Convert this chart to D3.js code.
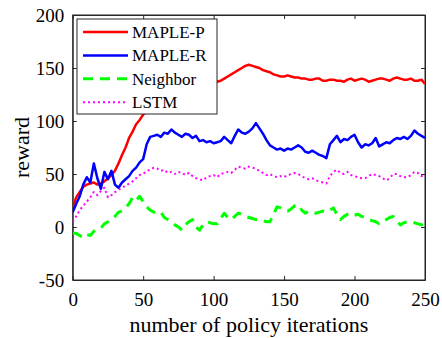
<!DOCTYPE html>
<html>
<head>
<meta charset="utf-8">
<script src="https://cdn.jsdelivr.net/npm/d3@7.9.0/dist/d3.min.js"></script>
<style>
  body { margin: 0; background: #fff; }
</style>
</head>
<body>
<svg id="chart" width="442" height="338"></svg>
<script>
// policy iteration index, one sample every 2.5 iterations
const iterations = d3.range(0, 250.01, 2.5);

const mapleP = [19, 28, 33, 38, 40, 41, 42, 40, 41, 43, 46, 49, 53, 60, 68, 75, 84, 90, 97, 101,
  106, 109, 112, 115, 117, 119, 121, 122, 124, 126, 127, 128, 129, 130, 131, 132, 133, 133, 134, 134,
  135, 137, 138, 140, 142, 144, 146, 148, 150, 152, 153, 152, 151, 150, 148, 147, 146, 144, 143, 142,
  142, 143, 142, 141, 141, 140, 140, 139, 139, 140, 140, 138, 138, 139, 139, 138, 138, 137, 139, 140,
  138, 139, 140, 139, 137, 138, 139, 140, 140, 139, 138, 140, 141, 140, 139, 139, 140, 138, 138, 139, 135];

const mapleR = [14, 22, 29, 40, 47, 42, 60, 46, 36, 52, 45, 53, 40, 37, 42, 45, 48, 53, 56, 61,
  64, 78, 85, 86, 87, 85, 89, 88, 92, 89, 87, 85, 88, 87, 84, 86, 81, 82, 80, 81,
  79, 80, 81, 85, 82, 79, 86, 92, 89, 88, 90, 93, 98, 93, 88, 82, 77, 75, 73, 74,
  72, 74, 73, 75, 77, 75, 71, 70, 72, 70, 68, 67, 65, 78, 82, 86, 80, 83, 82, 85,
  87, 80, 75, 78, 77, 79, 84, 76, 78, 80, 79, 82, 84, 83, 85, 83, 86, 91, 88, 86, 84];

const neighbor = [-6, -6, -8, -10, -7, -8, -4, -2, -1, 3, 5, 7, 10, 14, 15, 18, 22, 28, 25, 29,
  24, 19, 16, 14, 13, 14, 9, 7, 5, 2, 0, -3, 2, 5, 7, 0, -3, 2, 5, 4,
  3, 3, 8, 13, 9, 7, 10, 13, 12, 10, 9, 8, 7, 7, 6, 5, 5, 12, 19, 18,
  16, 15, 17, 20, 21, 16, 13, 15, 14, 13, 14, 15, 14, 16, 18, 12, 7, 10, 12, 13,
  11, 12, 10, 9, 7, 6, 5, 3, 5, 7, 9, 10, 6, 2, 4, 5, 5, 4, 3, 2, 3];

const lstm = [5, 10, 16, 20, 24, 28, 33, 30, 34, 37, 28, 30, 33, 35, 37, 39, 41, 43, 46, 49,
  50, 53, 54, 56, 55, 53, 54, 51, 52, 50, 52, 51, 49, 51, 48, 46, 45, 44, 47, 48,
  49, 47, 50, 51, 52, 51, 54, 57, 56, 55, 57, 56, 55, 53, 51, 49, 50, 48, 47, 48,
  47, 49, 50, 51, 50, 48, 46, 45, 46, 44, 43, 42, 41, 48, 52, 54, 51, 50, 52, 49,
  48, 47, 46, 46, 48, 50, 49, 48, 46, 44, 46, 50, 50, 48, 47, 47, 49, 52, 51, 48, 49];

const xTicks = [0, 50, 100, 150, 200, 250];
const yTicks = [-50, 0, 50, 100, 150, 200];

const series = [
  { name: 'MAPLE-P', values: mapleP, color: '#ff0000', width: 2.5, dash: null },
  { name: 'MAPLE-R', values: mapleR, color: '#0000ff', width: 2.5, dash: null },
  { name: 'Neighbor', values: neighbor, color: '#00ff00', width: 3, dash: '10,7' },
  { name: 'LSTM', values: lstm, color: '#ff00ff', width: 2, dash: '2,3' },
];

const serif = '"Liberation Serif", "Times New Roman", "DejaVu Serif", serif';
const svg = d3.select('#chart');
const plot = { left: 72.7, right: 425, top: 15, bottom: 280 };

const x = d3.scaleLinear().domain([0, 250]).range([plot.left, plot.right]);
const y = d3.scaleLinear().domain([-50, 200]).range([plot.bottom, plot.top]);

const axisColor = '#262626';
const plainNum = d => String(d); // keep ascii hyphen for negatives

// bottom and left axes carry labels; ticks point inward like MATLAB
svg.append('g')
  .attr('transform', `translate(0,${plot.bottom})`)
  .call(d3.axisBottom(x).tickValues(xTicks).tickFormat(plainNum)
    .tickSizeInner(-4).tickSizeOuter(0).tickPadding(12.5));

svg.append('g')
  .attr('transform', `translate(${plot.left},0)`)
  .call(d3.axisLeft(y).tickValues(yTicks).tickFormat(plainNum)
    .tickSizeInner(-4).tickSizeOuter(0).tickPadding(8.5));

svg.append('g')
  .attr('transform', `translate(0,${plot.top})`)
  .call(d3.axisTop(x).tickValues(xTicks).tickSizeInner(-4).tickSizeOuter(0).tickFormat(''));

svg.append('g')
  .attr('transform', `translate(${plot.right},0)`)
  .call(d3.axisRight(y).tickValues(yTicks).tickSizeInner(-4).tickSizeOuter(0).tickFormat(''));

svg.selectAll('.domain, .tick line').attr('stroke', axisColor);
svg.selectAll('.tick text')
  .attr('fill', '#000')
  .style('font-family', serif)
  .style('font-size', '19px');

svg.append('rect')
  .attr('x', plot.left).attr('y', plot.top)
  .attr('width', plot.right - plot.left).attr('height', plot.bottom - plot.top)
  .attr('fill', 'none').attr('stroke', axisColor).attr('stroke-width', 1);

const line = d3.line()
  .x((d, i) => x(iterations[i]))
  .y(d => y(d));

svg.append('defs').append('clipPath').attr('id', 'plot-clip')
  .append('rect')
  .attr('x', plot.left).attr('y', plot.top)
  .attr('width', plot.right - plot.left).attr('height', plot.bottom - plot.top);

svg.append('g')
  .attr('clip-path', 'url(#plot-clip)')
  .selectAll('path')
  .data(series)
  .join('path')
  .attr('d', d => line(d.values))
  .attr('fill', 'none')
  .attr('stroke', d => d.color)
  .attr('stroke-width', d => d.width)
  .attr('stroke-dasharray', d => d.dash)
  .attr('stroke-linejoin', 'round');

// legend in the top-left corner
const legend = svg.append('g');
legend.append('rect')
  .attr('x', 77).attr('y', 19)
  .attr('width', 140).attr('height', 95)
  .attr('fill', '#fff').attr('stroke', axisColor).attr('stroke-width', 1);

const rows = legend.selectAll('g.row')
  .data(series)
  .join('g')
  .attr('class', 'row')
  .attr('transform', (d, i) => `translate(0,${32 + i * 23.4})`);

rows.append('line')
  .attr('x1', 83).attr('x2', 128)
  .attr('stroke', d => d.color)
  .attr('stroke-width', d => d.width)
  .attr('stroke-dasharray', d => d.dash);

rows.append('text')
  .attr('x', 132)
  .attr('dy', '0.35em')
  .style('font-family', serif)
  .style('font-size', '17px')
  .text(d => d.name);

// axis titles
svg.append('text')
  .attr('x', (plot.left + plot.right) / 2)
  .attr('y', 331.5)
  .attr('text-anchor', 'middle')
  .style('font-family', serif)
  .style('font-size', '22px')
  .text('number of policy iterations');

svg.append('text')
  .attr('transform', `translate(29,${(plot.top + plot.bottom) / 2}) rotate(-90)`)
  .attr('text-anchor', 'middle')
  .style('font-family', serif)
  .style('font-size', '22px')
  .text('reward');
</script>
</body>
</html>
